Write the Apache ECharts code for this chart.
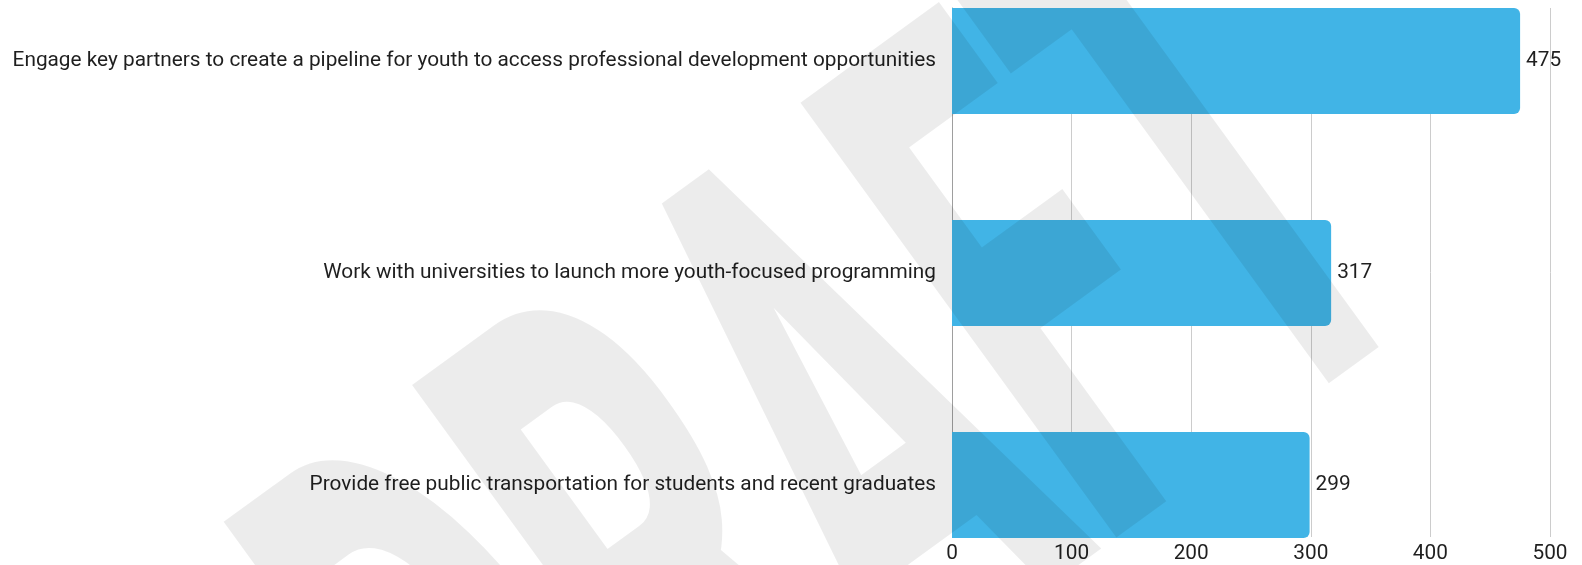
<!DOCTYPE html>
<html>
<head>
<meta charset="utf-8">
<script src="https://cdn.jsdelivr.net/npm/echarts@6/dist/echarts.min.js"></script>
<style>
  html, body { margin: 0; padding: 0; background: #ffffff; }
  #chart { width: 1582px; height: 565px; }
</style>
</head>
<body>
<div id="chart"></div>
<script>
// Survey priorities and the number of responses for each
const categories = [
  'Engage key partners to create a pipeline for youth to access professional development opportunities',
  'Work with universities to launch more youth-focused programming',
  'Provide free public transportation for students and recent graduates'
];
const responses = [475, 317, 299];
const axisTicks = [0, 100, 200, 300, 400, 500];

const FONT = 'Roboto';
const TEXT = '#1f1f1f';
const BAR = '#41b4e6';
const FONT_SIZE = 20.8;

const axisMin = axisTicks[0];
const axisMax = axisTicks[axisTicks.length - 1];
const axisStep = axisTicks[1] - axisTicks[0];

const chart = echarts.init(document.getElementById('chart'), null, { renderer: 'canvas' });

chart.setOption({
  animation: false,
  backgroundColor: '#ffffff',
  grid: [
    // bars: bands sized so the three bars fill the plot with equal gaps
    { left: 952, right: 32, top: -45, bottom: -26, outerBoundsMode: 'none', containLabel: false },
    // value axis, gridlines and baseline
    { left: 952, right: 32, top: 8, bottom: 28, outerBoundsMode: 'none', containLabel: false }
  ],
  xAxis: [
    {
      gridIndex: 0, type: 'value', min: axisMin, max: axisMax, interval: axisStep,
      show: false
    },
    {
      gridIndex: 1, type: 'value', min: axisMin, max: axisMax, interval: axisStep,
      axisLine: { show: false },
      axisTick: { show: false },
      splitLine: { show: true, lineStyle: { color: '#cccccc', width: 1 } },
      axisLabel: {
        margin: 6, color: TEXT, fontFamily: FONT, fontSize: FONT_SIZE,
        formatter: v => String(v)
      }
    }
  ],
  yAxis: [
    {
      gridIndex: 0, type: 'category', data: categories, inverse: true,
      axisLine: { show: false },
      axisTick: { show: false },
      splitLine: { show: false },
      axisLabel: { margin: 16, color: TEXT, fontFamily: FONT, fontSize: FONT_SIZE }
    },
    {
      gridIndex: 1, type: 'value', min: 0, max: 1,
      axisLine: { show: true, onZero: false, lineStyle: { color: '#9e9e9e', width: 1 } },
      axisTick: { show: false },
      axisLabel: { show: false },
      splitLine: { show: false }
    }
  ],
  series: [
    {
      type: 'bar',
      xAxisIndex: 0,
      yAxisIndex: 0,
      data: responses,
      barCategoryGap: '50%',
      itemStyle: { color: BAR, borderRadius: [0, 6, 6, 0] },
      label: {
        show: true, position: 'right', distance: 6,
        color: TEXT, fontFamily: FONT, fontSize: FONT_SIZE
      },
      z: 2
    }
  ],
  graphic: [
    {
      // diagonal "DRAFT" watermark laid over the plot
      type: 'text',
      z: 100,
      x: 874,
      y: 480,
      rotation: 36 * Math.PI / 180,
      scaleX: 1,
      scaleY: 2.1,
      silent: true,
      style: {
        text: 'DRAFT',
        fontFamily: FONT,
        fontWeight: 900,
        fontSize: 360,
        fill: 'rgba(0,0,0,0.075)',
        align: 'center',
        verticalAlign: 'middle'
      }
    }
  ]
});
</script>
</body>
</html>
